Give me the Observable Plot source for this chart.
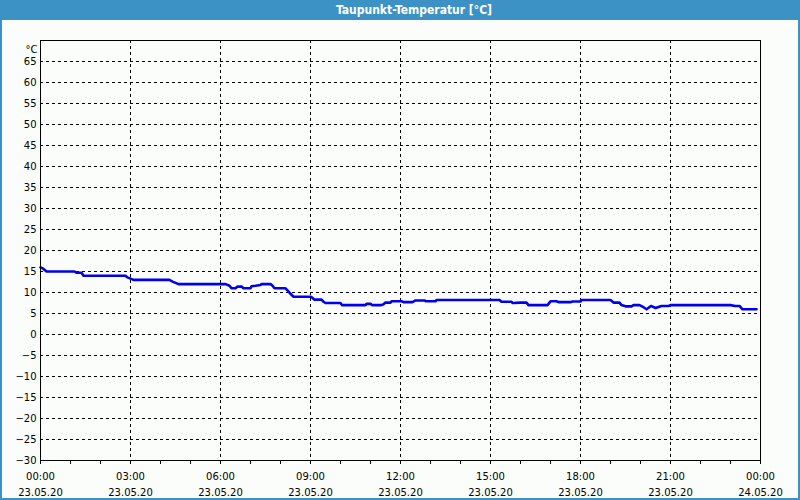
<!DOCTYPE html>
<html>
<head>
<meta charset="utf-8">
<script src="https://cdn.jsdelivr.net/npm/d3@7"></script>
<script src="https://cdn.jsdelivr.net/npm/@observablehq/plot@0.6"></script>
<style>
  html, body { margin: 0; padding: 0; background: #fbfdfb; }
  #wrap { position: relative; width: 800px; height: 500px; overflow: hidden; background: #fbfdfb; }
  #title { position: absolute; left: 0; top: 0; width: 800px; height: 20px; background: #3c92c4;
           color: #fff; font: bold 12px "DejaVu Sans Condensed", "DejaVu Sans", sans-serif;
           line-height: 20px; text-align: center; padding-left: 28px; box-sizing: border-box; }
  #chart { position: absolute; left: 0; top: 20px; }
  #border { position: absolute; left: 0; top: 0; width: 800px; height: 500px; box-sizing: border-box;
            border: 2px solid #3c92c4; border-top: none; pointer-events: none; }
</style>
</head>
<body>
<div id="wrap">
  <div id="title">Taupunkt-Temperatur [°C]</div>
  <div id="chart"></div>
  <div id="border"></div>
</div>
<script>
// Dew point readings, 23.05.20 (time of day, °C)
const times = ["00:00","00:06","00:12","01:08","01:12","01:22","01:26","02:50","02:54","03:00",
  "03:06","04:18","04:24","04:30","04:36","06:10","06:18","06:22","06:30","06:34",
  "06:42","06:46","07:00","07:02","07:10","07:20","07:22","07:40","07:44","07:48",
  "08:10","08:14","08:20","08:26","09:00","09:04","09:08","09:22","09:26","09:30",
  "10:00","10:03","10:50","10:52","11:00","11:03","11:22","11:26","11:30","11:40",
  "11:42","12:03","12:06","12:24","12:30","12:48","12:51","13:10","13:12","15:18",
  "15:22","15:42","15:44","16:00","16:12","16:16","16:54","17:00","17:12","17:16",
  "17:40","17:44","18:00","18:02","19:00","19:06","19:18","19:22","19:30","19:42",
  "19:46","19:58","20:06","20:12","20:21","20:30","20:42","20:56","21:00","23:00",
  "23:09","23:18","23:24","23:52"];
const values = [16.0,15.6,15.0,15.0,14.7,14.7,14.0,14.0,13.6,13.3,
  13.0,13.0,12.6,12.3,12.0,12.0,11.6,11.0,11.0,11.4,
  11.4,11.0,11.0,11.5,11.6,11.8,12.0,12.0,11.6,11.0,
  11.0,10.5,9.7,9.0,9.0,8.7,8.3,8.3,7.8,7.5,
  7.5,7.0,7.0,7.3,7.3,7.0,7.0,7.2,7.6,7.6,
  7.9,7.9,7.7,7.7,8.1,8.1,7.9,7.9,8.2,8.2,
  7.8,7.8,7.5,7.6,7.6,7.0,7.0,7.9,7.9,7.7,
  7.7,7.85,7.85,8.2,8.2,7.6,7.6,7.0,6.7,6.7,
  7.0,7.0,6.5,6.0,6.8,6.3,6.8,6.8,7.0,7.0,
  6.8,6.8,6.0,6.0];
const day = "2020-05-23";
const dayEnd = "2020-05-24";
const yTicks = [-30,-25,-20,-15,-10,-5,0,5,10,15,20,25,30,35,40,45,50,55,60,65];
const yGrid = [-25,-20,-15,-10,-5,0,5,10,15,20,25,30,35,40,45,50,55,60,65];
const yUnit = "°C";
const yDomain = [-30, 70];
const majorHours = [0,3,6,9,12,15,18,21,24];

const parse = (d, t) => new Date(d + "T" + t + ":00Z");
const data = times.map((t, i) => ({date: parse(day, t), value: values[i]}));
const start = parse(day, "00:00"), end = parse(dayEnd, "00:00");
const major = majorHours.map(h => new Date(+start + h * 3600e3));
const hourly = d3.utcHour.range(start, new Date(+end + 1));
const fmt = d => d3.utcFormat("%H:%M")(d) + "\n" + d3.utcFormat("%d.%m.%y")(d);

const chart = Plot.plot({
  width: 800,
  height: 480,
  marginTop: 20,
  marginBottom: 40,
  marginLeft: 40,
  marginRight: 40,
  style: {fontFamily: "'DejaVu Sans', sans-serif", fontSize: "10px", background: "transparent", color: "black"},
  x: {type: "utc", domain: [start, end]},
  y: {domain: yDomain},
  marks: [
    Plot.gridX(major.slice(1, -1), {stroke: "black", strokeOpacity: 1, strokeDasharray: "3,3"}),
    Plot.gridY(yGrid, {stroke: "black", strokeOpacity: 1, strokeDasharray: "3,3"}),
    Plot.axisY(yTicks, {tickSize: 0, tickPadding: 4, label: null, fill: "black", fontSize: 10}),
    Plot.axisX(hourly, {tickSize: 4, text: null, label: null, stroke: "black"}),
    Plot.axisX(major, {tickSize: 0, tickPadding: 8, tickFormat: fmt, label: null, lineHeight: 1.6, fill: "black", fontSize: 10}),
    Plot.text([yUnit], {frameAnchor: "top-left", dx: -3, dy: 5, textAnchor: "end", fill: "black", fontSize: 10}),
    Plot.line(data, {x: "date", y: "value", stroke: "#0000ee", strokeWidth: 2.6}),
    Plot.frame({stroke: "black"})
  ]
});
document.getElementById("chart").appendChild(chart);
</script>
</body>
</html>
